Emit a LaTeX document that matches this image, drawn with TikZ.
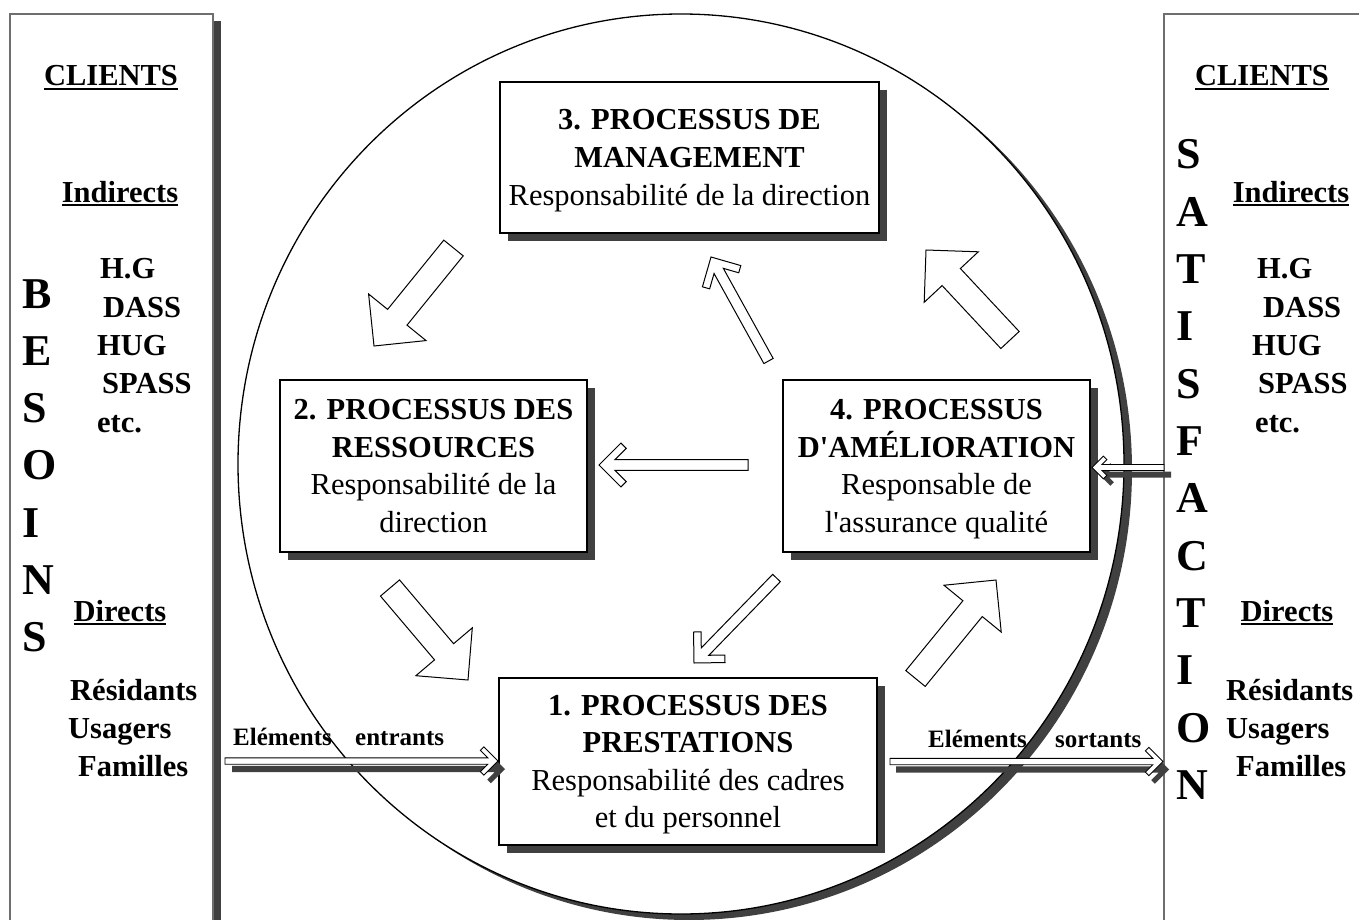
\documentclass[tikz,border=0pt]{standalone}
\usepackage{fontspec}
\setmainfont{Liberation Serif}
% same family without the TeX quote mapping, for straight apostrophes
\newfontfamily\qfont{Liberation Serif}
\newcommand{\apos}{{\qfont'}}
\usetikzlibrary{calc,shadows}
\definecolor{shadowgray}{HTML}{404040}
\definecolor{panelline}{HTML}{6E6E6E}

% underlined heading with a solid rule just below the baseline
\newcommand{\undl}[1]{\setbox0\hbox{#1}\rlap{\rule[-3.8pt]{\wd0}{2.2pt}}\box0}
% strut that fixes the first and last line of the process boxes
\newcommand{\bxstrut}{\rule[-8.75pt]{0pt}{37.5pt}}

% block arrow with a triangular head
% #2 tail, #3 tip, #4 half shaft width, #5 half head width, #6 head length
\newcommand{\blockarrow}[6][]{%
  \path[#1] (#3)
    -- ($(#3)!#6pt!(#2)!#5pt!90:(#2)$)
    -- ($(#3)!#6pt!(#2)!#4pt!90:(#2)$)
    -- ($(#2)!#4pt!-90:(#3)$)
    -- ($(#2)!#4pt!90:(#3)$)
    -- ($(#3)!#6pt!(#2)!#4pt!-90:(#2)$)
    -- ($(#3)!#6pt!(#2)!#5pt!-90:(#2)$)
    -- cycle;}

% outlined arrow with an open (chevron) head
% #2 tail, #3 tip, #4 half shaft width, #5 arm length, #6 arm thickness
\newcommand{\chevarrow}[6][]{%
  \pgfmathsetlengthmacro{\chvO}{#5/sqrt(2)}%
  \pgfmathsetlengthmacro{\chvI}{(#5+#6)/sqrt(2)}%
  \pgfmathsetlengthmacro{\chvV}{(#5-#6)/sqrt(2)}%
  \pgfmathsetlengthmacro{\chvJ}{#4+#6*sqrt(2)}%
  \path[#1] (#3)
    -- ($(#3)!\chvO!(#2)!\chvO!90:(#2)$)
    -- ($(#3)!\chvI!(#2)!\chvV!90:(#2)$)
    -- ($(#3)!\chvJ!(#2)!#4pt!90:(#2)$)
    -- ($(#2)!#4pt!-90:(#3)$)
    -- ($(#2)!#4pt!90:(#3)$)
    -- ($(#3)!\chvJ!(#2)!#4pt!-90:(#2)$)
    -- ($(#3)!\chvI!(#2)!\chvV!-90:(#2)$)
    -- ($(#3)!\chvO!(#2)!\chvO!-90:(#2)$)
    -- cycle;}

\tikzset{
  arrowbody/.style={draw=black, fill=white, line width=1pt, line join=miter},
  shadowbody/.style={fill=shadowgray},
  procbox/.style={draw=black, fill=white, line width=1.2pt, inner sep=0pt,
    align=center, font=\fontsize{30.5}{37.5}\selectfont,
    general shadow={fill=shadowgray, shadow xshift=8pt, shadow yshift=-8pt}},
  panel/.style={draw=panelline, fill=white, line width=1.2pt,
    general shadow={fill=shadowgray, shadow xshift=8pt, shadow yshift=-7pt}},
  lbl/.style={font=\bfseries\fontsize{30.5}{36}\selectfont, inner sep=0pt},
  bigletter/.style={font=\bfseries\fontsize{44}{44}\selectfont, inner sep=0pt, anchor=base west},
  flowlbl/.style={font=\bfseries\fontsize{25}{30}\selectfont, inner sep=0pt, anchor=base west},
}

\begin{document}
\begin{tikzpicture}[x=1pt,y=-1pt]
\useasboundingbox (0,0) rectangle (1359,920);
\fill[white] (0,0) rectangle (1359,920);

% the cycle: a large circle with a shadow on its lower right
\fill[shadowgray] (689,470) ellipse [x radius=443pt, y radius=450pt];
\draw[line width=1.3pt, fill=white] (681,464) ellipse [x radius=443pt, y radius=450pt];

% client panels at both sides
\node[panel, minimum width=203pt, minimum height=930pt] (leftpanel) at (111.5,479) {};
\node[panel, minimum width=216pt, minimum height=930pt] (rightpanel) at (1272,479) {};

% the four processes
\node[procbox, minimum width=379pt, minimum height=151pt] (p3) at (689.5,157.5)
  {\bxstrut\textbf{3. PROCESSUS DE}\\\textbf{MANAGEMENT}\\Responsabilité de la direction\bxstrut};
\node[procbox, minimum width=307pt, minimum height=172pt] (p2) at (433.5,466)
  {\bxstrut\textbf{2. PROCESSUS DES}\\\textbf{RESSOURCES}\\Responsabilité de la\\direction\bxstrut};
\node[procbox, minimum width=307pt, minimum height=172pt] (p4) at (936.5,466)
  {\bxstrut\textbf{4. PROCESSUS}\\\textbf{D\apos AMÉLIORATION}\\Responsable de\\l\apos assurance qualité\bxstrut};
\node[procbox, minimum width=378pt, minimum height=167pt] (p1) at (688,761.5)
  {\bxstrut\textbf{1. PROCESSUS DES}\\\textbf{PRESTATIONS}\\Responsabilité des cadres\\et du personnel\bxstrut};

% arrow ends between the processes
\coordinate (a32t) at (453.5,248);  \coordinate (a32h) at (374,346);
\coordinate (a43t) at (1010,340);   \coordinate (a43h) at (926,250);
\coordinate (a21t) at (390,588);    \coordinate (a21h) at (468,680);
\coordinate (a14t) at (915.5,678.5);\coordinate (a14h) at (996,580);
\coordinate (b43t) at (768.5,361);  \coordinate (b43h) at (711,257);
\coordinate (b41t) at (776.5,578);  \coordinate (b41h) at (694,663);
\coordinate (b42t) at (748,465);    \coordinate (b42h) at (599,465);

\blockarrow[arrowbody]{a32t}{a32h}{12.5}{37}{37}
\blockarrow[arrowbody]{a43t}{a43h}{12.5}{37}{37}
\blockarrow[arrowbody]{a21t}{a21h}{12.5}{37}{37}
\blockarrow[arrowbody]{a14t}{a14h}{12.5}{37}{37}
\chevarrow[arrowbody]{b43t}{b43h}{5.3}{31}{7.5}
\chevarrow[arrowbody]{b41t}{b41h}{5.3}{31}{7.5}
\chevarrow[arrowbody]{b42t}{b42h}{5.3}{31}{7.5}

% incoming and outgoing flows, and the feedback into improvement
\coordinate (inT) at (225,761);   \coordinate (inH) at (498,761);
\coordinate (outT) at (890,761.5); \coordinate (outH) at (1163,761.5);
\coordinate (fbT) at (1164,467.5); \coordinate (fbH) at (1092,467.5);

\begin{scope}[transform canvas={shift={(7pt,-8pt)}}]
  \chevarrow[shadowbody]{inT}{inH}{3.2}{20}{5}
\end{scope}
\begin{scope}[transform canvas={shift={(6pt,-8pt)}}]
  \chevarrow[shadowbody]{outT}{outH}{3.2}{20}{5}
\end{scope}
\begin{scope}[transform canvas={shift={(7pt,-7pt)}}]
  \chevarrow[shadowbody]{fbT}{fbH}{3}{16}{5}
\end{scope}
\chevarrow[arrowbody, line width=0.9pt]{inT}{inH}{3.2}{20}{5}
\chevarrow[arrowbody, line width=0.9pt]{outT}{outH}{3.2}{20}{5}
\chevarrow[arrowbody, line width=0.9pt]{fbT}{fbH}{3}{16}{5}

\node[flowlbl] (inl1) at (233,745) {Eléments};
\node[flowlbl] (inl2) at (355,745) {entrants};
\node[flowlbl] (outl1) at (928,747) {Eléments};
\node[flowlbl] (outl2) at (1055,747) {sortants};

% left panel: needs of the clients
\node[lbl, anchor=base] (lcl) at (111,86) {\undl{CLIENTS}};
\node[lbl, anchor=base] (lind) at (120,202) {\undl{Indirects}};
\node[lbl, anchor=base west] (li1) at (100,278) {H.G};
\node[lbl, anchor=base west] (li2) at (103,317) {DASS};
\node[lbl, anchor=base west] (li3) at (97,355) {HUG};
\node[lbl, anchor=base west] (li4) at (102,393) {SPASS};
\node[lbl, anchor=base west] (li5) at (97,432) {etc.};
\node[lbl, anchor=base] (ldir) at (120,621) {\undl{Directs}};
\node[lbl, anchor=base west] (ld1) at (70,700) {Résidants};
\node[lbl, anchor=base west] (ld2) at (68,738) {Usagers};
\node[lbl, anchor=base west] (ld3) at (78,776) {Familles};
\foreach \ch [count=\i] in {B,E,S,O,I,N,S}
  \node[bigletter] (bes\i) at (22,{308+(\i-1)*57.3}) {\ch};

% right panel: satisfaction of the clients
\node[lbl, anchor=base] (rcl) at (1262,86) {\undl{CLIENTS}};
\node[lbl, anchor=base] (rind) at (1291,202) {\undl{Indirects}};
\node[lbl, anchor=base west] (ri1) at (1257,278) {H.G};
\node[lbl, anchor=base west] (ri2) at (1263,317) {DASS};
\node[lbl, anchor=base west] (ri3) at (1252,355) {HUG};
\node[lbl, anchor=base west] (ri4) at (1258,393) {SPASS};
\node[lbl, anchor=base west] (ri5) at (1255,432) {etc.};
\node[lbl, anchor=base] (rdir) at (1287,621) {\undl{Directs}};
\node[lbl, anchor=base west] (rd1) at (1226,700) {Résidants};
\node[lbl, anchor=base west] (rd2) at (1226,738) {Usagers};
\node[lbl, anchor=base west] (rd3) at (1236,776) {Familles};
\foreach \ch [count=\i] in {S,A,T,I,S,F,A,C,T,I,O,N}
  \node[bigletter] (sat\i) at (1176,{169+(\i-1)*57.3}) {\ch};
\end{tikzpicture}
\end{document}
